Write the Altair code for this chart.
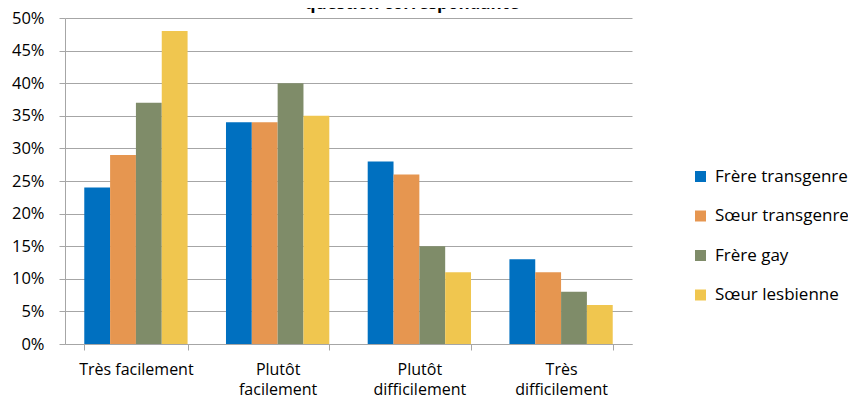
import altair as alt
import pandas as pd

categories = ["Très facilement", "Plutôt facilement", "Plutôt difficilement", "Très difficilement"]
series = ["Frère transgenre", "Sœur transgenre", "Frère gay", "Sœur lesbienne"]
frere_transgenre = [24, 34, 28, 13]
soeur_transgenre = [29, 34, 26, 11]
frere_gay = [37, 40, 15, 8]
soeur_lesbienne = [48, 35, 11, 6]
colors = ["#0070C0", "#E69650", "#7F8C69", "#F0C64F"]
y_ticks = [0, 0.05, 0.10, 0.15, 0.20, 0.25, 0.30, 0.35, 0.40, 0.45, 0.50]
title_text = "question correspondante"

rows = []
for s, vals in zip(series, [frere_transgenre, soeur_transgenre, frere_gay, soeur_lesbienne]):
    for c, v in zip(categories, vals):
        rows.append({"cat": c, "series": s, "val": v / 100})
df = pd.DataFrame(rows)

FONT = "Open Sans"
GRAY = "#A6A6A6"
TXT = "#000000"

bars = alt.Chart(df).mark_bar().encode(
    x=alt.X(
        "cat:N",
        sort=categories,
        title=None,
        scale=alt.Scale(paddingInner=0.271, paddingOuter=0.136),
        axis=alt.Axis(
            labelAngle=0,
            tickBand="extent",
            tickSize=6,
            tickColor=GRAY,
            domainColor=GRAY,
            labelFont=FONT,
            labelFontSize=16,
            labelColor=TXT,
            labelPadding=11,
            labelLineHeight=20,
            labelBaseline="top",
            grid=False,
            labelExpr="datum.label == 'Très facilement' ? datum.label : split(datum.label, ' ')",
        ),
    ),
    xOffset=alt.XOffset("series:N", sort=series, scale=alt.Scale(paddingInner=0, paddingOuter=0)),
    y=alt.Y(
        "val:Q",
        title=None,
        scale=alt.Scale(domain=[0, 0.5], nice=False),
        axis=alt.Axis(
            values=y_ticks,
            format=".0%",
            grid=True,
            gridColor=GRAY,
            domainColor=GRAY,
            tickColor=GRAY,
            tickSize=6,
            labelFont=FONT,
            labelFontSize=16.5,
            labelColor=TXT,
            labelPadding=15,
        ),
    ),
    color=alt.Color(
        "series:N",
        sort=series,
        scale=alt.Scale(domain=series, range=colors),
        legend=alt.Legend(
            title=None,
            orient="none",
            legendX=627,
            legendY=150,
            padding=0,
            symbolType="square",
            symbolSize=121,
            symbolStrokeWidth=0,
            labelFont=FONT,
            labelFontSize=17,
            labelColor=TXT,
            labelOffset=6,
            rowPadding=21.5,
            labelLimit=0,
        ),
    ),
)

title = alt.Chart(pd.DataFrame({"t": [title_text]})).mark_text(
    font=FONT, fontSize=17, fontWeight="bold", baseline="alphabetic", align="center", color=TXT
).encode(text="t:N", x=alt.value(347), y=alt.value(-9))

chart = alt.layer(bars, title).properties(
    width=567,
    height=326,
    autosize=alt.AutoSizeParams(type="none"),
    padding={"left": 57, "top": 10, "right": 216, "bottom": 54},
).configure_view(stroke=None)

chart.save("out.html", embed_options={"renderer": "svg", "actions": False})
